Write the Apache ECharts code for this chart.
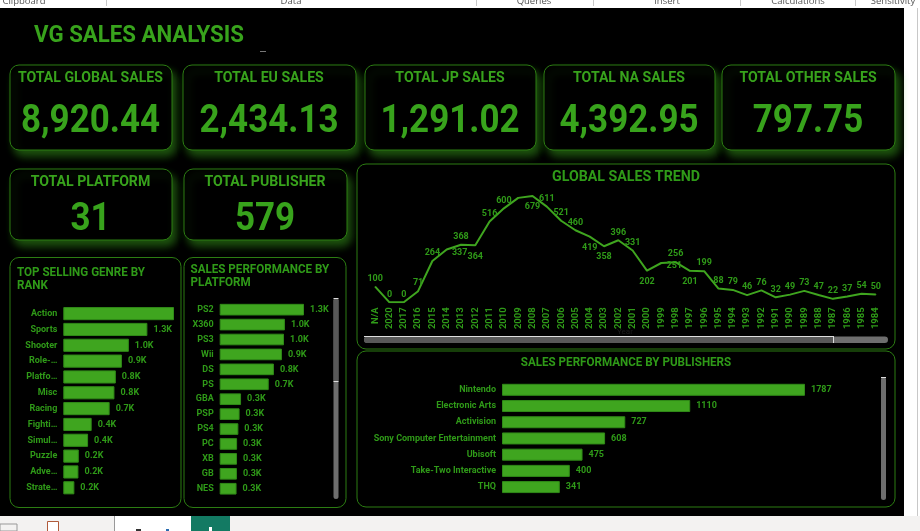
<!DOCTYPE html>
<html><head><meta charset="utf-8">
<style>html,body{margin:0;padding:0;background:#fff}#c{width:920px;height:531px}</style>
<script src="https://cdn.jsdelivr.net/npm/echarts@6/dist/echarts.min.js"></script>
</head><body><div id="c"></div>
<script>
const years=['N/A','2020','2017','2016','2015','2014','2013','2012','2011','2010','2009','2008','2007','2006','2005','2004','2003','2002','2001','2000','1999','1998','1997','1996','1995','1994','1993','1992','1991','1990','1989','1988','1987','1986','1985','1984'];
const yearSales=[100,0,0,71,264,337,368,364,516,600,667,679,611,521,460,419,358,396,331,202,251,256,201,199,88,79,46,76,32,49,73,47,22,37,54,50];
const genres=['Action','Sports','Shooter','Role-…','Platfo…','Misc','Racing','Fighti…','Simul…','Puzzle','Adve…','Strate…'];
const genreSales=[1751,1330,1037,927,831,809,733,449,392,245,239,175];
const platforms=['PS2','X360','PS3','Wii','DS','PS','GBA','PSP','PS4','PC','XB','GB','NES'];
const platformSales=[1255,971,957,926,807,730,318,296,278,259,258,256,251];
const publishers=['Nintendo','Electronic Arts','Activision','Sony Computer Entertainment','Ubisoft','Take-Two Interactive','THQ'];
const publisherSales=[1787,1110,727,608,475,400,341];
const kpiTitles=['TOTAL GLOBAL SALES','TOTAL EU SALES','TOTAL JP SALES','TOTAL NA SALES','TOTAL OTHER SALES','TOTAL PLATFORM','TOTAL PUBLISHER'];
const kpiValues=['8,920.44','2,434.13','1,291.02','4,392.95','797.75','31','579'];
const ribbonLabels=['Clipboard','Data','Queries','Insert','Calculations','Sensitivity'];

const GREEN='#38a31c',TXT='#2f9a18',BAR='#3fa51f',EDGE='#308a18',LINE='#2c7d12';
const FONT='Roboto, "Liberation Sans", sans-serif';
const g=[];
const rect=(x,y,w,h,fill,z,extra)=>g.push({type:'rect',silent:true,z:z||1,shape:{x,y,width:w,height:h,r:(extra&&extra.r)||0},style:Object.assign({fill},(extra&&extra.style)||{})});
const text=(x,y,t,size,color,align,weight,sx,lh)=>g.push({type:'text',silent:true,z:5,x,y,scaleX:sx||1,style:{text:t,fontSize:size,fontFamily:FONT,fontWeight:weight||700,fill:color||GREEN,align:align||'center',verticalAlign:'middle',lineHeight:lh||undefined}});
const card=(x,y,w,h,glow)=>g.push({type:'rect',silent:true,z:2,shape:{x:x+.5,y:y+.5,width:w,height:h,r:9},style:{fill:'#000',stroke:LINE,lineWidth:1,shadowBlur:glow?9:0,shadowColor:'rgba(60,170,30,.5)',shadowOffsetX:glow?4:0,shadowOffsetY:glow?6:0}});

// window chrome
rect(0,0,920,531,'#fff',0);
rect(0,516,920,15,'#f3f2f1',0);
[106,476,593,740,855].forEach(x=>rect(x,0,1,6,'#c8c8c8',0));
[24,291,534,667,798,893].forEach((x,i)=>g.push({type:'text',silent:true,z:1,x,y:1,style:{text:ribbonLabels[i],fontSize:9.5,fontFamily:'"Open Sans",sans-serif',fill:'#555',align:'center',verticalAlign:'middle'}}));
rect(917,8,1,508,'#c8c8c8',0);
rect(0,8,904,508,'#000',1);
rect(114,516,1,15,'#999',1);
rect(115,516,76,15,'#fff',1);
rect(191,516,39,15,'#137a63',1);
rect(209,527,3,4,'#fff',1);
rect(0,524,17,7,'#f3f2f1',1,{style:{stroke:'#999',lineWidth:1}});
rect(47.5,521.5,11,10,'#fff',1,{style:{stroke:'#b05a3a',lineWidth:1}});
rect(136,529,5,2,'#333',1);
rect(166,529,3,2,'#2b6cb0',1);

text(139,36,'VG SALES ANALYSIS',23.5,GREEN,'center',700,.946);
rect(260,51,6,1,'#777',1);

const kpi=[[9.5,64.5,162,85],[182.5,64.5,173,85],[364.5,64.5,171,85],[543.5,64.5,171,85],[721.5,64.5,173,85],[9.5,168.5,162,71],[183.5,168.5,163,71]];
kpi.forEach((k,i)=>{
  card(k[0],k[1],k[2],k[3],true);
  const cx=k[0]+k[2]/2, small=i>=5;
  text(cx,k[1]+13.5,kpiTitles[i],15,GREEN,'center',700,.94);
  text(cx,k[1]+(small?51.5:58),kpiValues[i],38,GREEN,'center',700,.92);
});
[[9.5,257,171,250],[183.5,257,162,250],[356.5,163.5,538,185],[356.5,350.5,538,156]].forEach(c=>card(c[0],c[1],c[2],c[3],false));

text(17,279,'TOP SELLING GENRE BY\nRANK',12.5,TXT,'left',700,.93,13);
text(190.5,276,'SALES PERFORMANCE BY\nPLATFORM',12.5,TXT,'left',700,.93,13);
text(626,177,'GLOBAL SALES TREND',14.5,TXT,'center',700,.98);
text(626,363,'SALES PERFORMANCE BY PUBLISHERS',12.5,TXT,'center',700,.93);
text(625,332,'Year',8,'#1c1c1c','center',400);

// scrollbars
const bar=(x,y,w,h,fill)=>rect(x,y,w,h,fill,3,{r:Math.min(w,h)/2});
bar(364,336.5,524,6.5,'#6e6e6e');bar(364,336.5,470,6.5,'#585858');rect(364,336,470,1,'#ddd',3);rect(833,336.5,1,6.5,'#ddd',3);
bar(333.5,298,5,201,'#6e6e6e');bar(333.5,298,5,84,'#585858');rect(333.5,381,5,1,'#ddd',3);rect(333.5,298,5,1,'#ddd',3);
bar(881,377,5,123,'#6e6e6e');rect(881,377,5,1,'#ddd',3);

const kFmt=p=>(p.value/1000).toFixed(1)+'K';
const hBar=(gi,data,labelFmt,barW,hideFirst)=>({type:'bar',xAxisIndex:gi,yAxisIndex:gi,z:4,barCategoryGap:barW,
  data:data.map((v,i)=>hideFirst&&i===0?{value:v,label:{show:false}}:v),
  itemStyle:{color:BAR,borderColor:EDGE,borderWidth:1},
  label:{show:true,position:'right',distance:6,color:TXT,fontSize:9,fontWeight:700,fontFamily:FONT,formatter:labelFmt}});
const catAxis=(gi,cats)=>({type:'category',gridIndex:gi,z:6,inverse:true,data:cats,axisLine:{show:false},axisTick:{show:false},
  axisLabel:{color:TXT,fontSize:9,fontWeight:700,fontFamily:FONT,margin:6,interval:0}});
const valAxis=(gi,max)=>({type:'value',gridIndex:gi,min:0,max,show:false,splitLine:{show:false}});

// per-point line labels
const below=new Set(['2012','2008','2004','2003','2000','1997']);
const hidden=new Set(['2009']);
const shifted=new Set(['2014','1999']);
const lineData=yearSales.map((v,i)=>{
  const y=years[i];
  const l={show:!hidden.has(y),position:below.has(y)?'bottom':'top',distance:below.has(y)?6:3};
  if(shifted.has(y))l.offset=[13,11];
  return {value:v,label:l};
});

const option={
  animation:false,backgroundColor:'transparent',
  graphic:{elements:g},
  grid:[
    {left:63.3,top:305.7,width:110.7,height:190},
    {left:219.7,top:302.2,width:84.3,height:194},
    {left:368,top:192.7,width:515,height:109.6},
    {left:502,top:381.7,width:303,height:113.5}
  ],
  xAxis:[valAxis(0,1751),valAxis(1,1255),
    {type:'category',gridIndex:2,z:6,data:years,axisLine:{show:false},axisTick:{show:false},
     axisLabel:{color:TXT,fontSize:9.5,fontWeight:700,fontFamily:FONT,rotate:90,interval:0,margin:5}},
    valAxis(3,1787)],
  yAxis:[catAxis(0,genres),catAxis(1,platforms),
    {type:'value',gridIndex:2,min:0,max:700,show:false,splitLine:{show:false}},
    catAxis(3,publishers)],
  series:[
    hBar(0,genreSales,kFmt,'17%',true),
    hBar(1,platformSales,kFmt,'22%'),
    {type:'line',xAxisIndex:2,yAxisIndex:2,z:4,data:lineData,symbol:'circle',symbolSize:1,showSymbol:true,showAllSymbol:true,
     itemStyle:{color:BAR},lineStyle:{color:BAR,width:2},
     label:{show:true,color:TXT,fontSize:9,fontWeight:700,fontFamily:FONT}},
    hBar(3,publisherSales,p=>p.value,'26%')
  ]
};
echarts.init(document.getElementById('c'),null,{renderer:'canvas'}).setOption(option);
</script></body></html>
